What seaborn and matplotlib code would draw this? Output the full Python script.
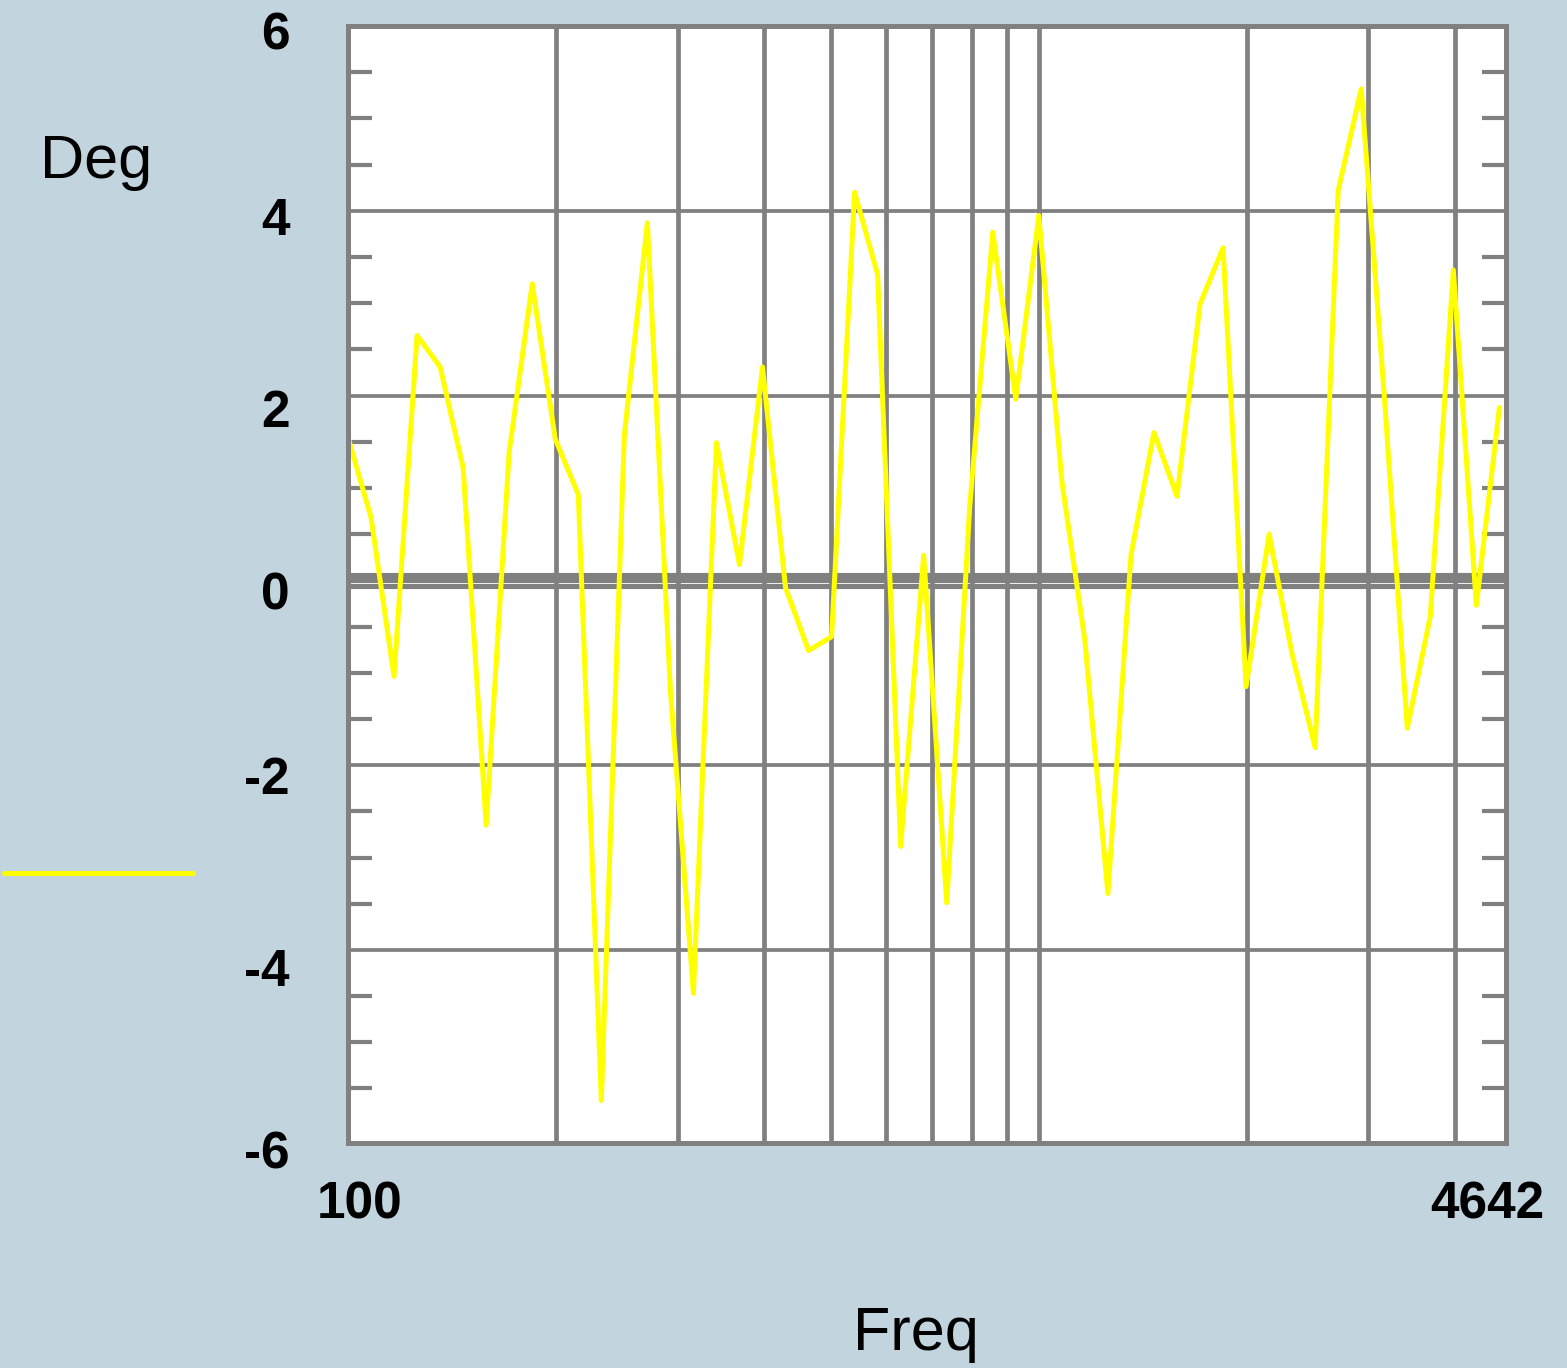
import numpy as np
import pandas as pd
import matplotlib
matplotlib.use("Agg")
import matplotlib.pyplot as plt
import matplotlib.transforms as mtransforms
from matplotlib.lines import Line2D
from matplotlib.ticker import MultipleLocator, NullFormatter, FixedLocator
import seaborn as sns

# ---------------- data ----------------
freq = [100.0, 107.98, 116.59, 125.89, 135.94, 146.78, 158.49, 171.13, 184.79, 199.53,
        215.44, 232.63, 251.19, 271.23, 292.87, 316.23, 341.45, 368.69, 398.11, 429.87,
        464.16, 501.19, 541.17, 584.34, 630.96, 681.29, 735.64, 794.33, 857.70, 926.12,
        1000.0, 1079.8, 1165.9, 1258.9, 1359.4, 1467.8, 1584.9, 1711.3, 1847.8, 1995.3,
        2154.4, 2326.3, 2511.9, 2712.3, 2928.6, 3162.3, 3414.5, 3686.9, 3981.1, 4298.7,
        4641.6]
deg = [1.55, 0.68, -1.04, 2.65, 2.31, 1.22, -2.65, 1.39, 3.21, 1.53,
       0.93, -5.63, 1.57, 3.87, -1.19, -4.47, 1.49, 0.17, 2.31, -0.08,
       -0.76, -0.61, 4.20, 3.31, -2.88, 0.27, -3.49, 0.80, 3.77, 1.96,
       3.95, 1.07, -0.65, -3.39, 0.27, 1.60, 0.91, 2.99, 3.60, -1.15,
       0.50, -0.80, -1.81, 4.22, 5.32, 2.00, -1.60, -0.39, 3.36, -0.27,
       1.87]
x_tick_values = [100.0, 4641.6]
x_tick_labels = ["100", "4642"]
x_grid_values = [200, 300, 400, 500, 600, 700, 800, 900, 1000, 2000, 3000, 4000]
y_tick_values = [-6, -4, -2, 0, 2, 4, 6]
y_tick_labels = ["-6", "-4", "-2", "0", "2", "4", "6"]
y_grid_values = [-4, -2, 2, 4]
zero_band = [-0.056, 0.0, 0.056]

df = pd.DataFrame({"Freq": freq, "Deg": deg})

# ---------------- style ----------------
BG = "#C2D4DE"
GRAY = "#808080"
sns.set_style("white")
plt.rcParams["font.family"] = ["Liberation Sans", "DejaVu Sans"]
plt.rcParams["text.color"] = "black"
plt.rcParams["axes.labelcolor"] = "black"
plt.rcParams["xtick.labelcolor"] = "black"
plt.rcParams["ytick.labelcolor"] = "black"

DPI = 100
fig = plt.figure(figsize=(15.67, 13.68), dpi=DPI, facecolor=BG)
L, R, B, T = 348 / 1567, 1506 / 1567, 1 - 1143 / 1368, 1 - 26 / 1368
ax = fig.add_axes([L, B, R - L, T - B])
ax.set_facecolor("white")

ax.set_xscale("log")
ax.set_xlim(100, 4745)
ax.set_ylim(-6.09, 5.985)

# grid lines
ax.xaxis.set_minor_locator(FixedLocator(x_grid_values))
ax.xaxis.set_minor_formatter(NullFormatter())
ax.xaxis.grid(True, which="minor", color=GRAY, lw=3.4, zorder=1)
ax.xaxis.grid(False, which="major")
for yv in y_grid_values:
    ax.axhline(yv, color=GRAY, lw=2.7, zorder=1)
for yv in zero_band:
    ax.axhline(yv, color=GRAY, lw=3.7, zorder=1.1)
ax.set_axisbelow(True)

# data line
sns.lineplot(data=df, x="Freq", y="Deg", ax=ax, color="#FFFF00", lw=3.6,
             sort=False, estimator=None, zorder=3)

# ticks
ax.set_xticks(x_tick_values)
ax.set_xticklabels(x_tick_labels, fontsize=37, fontweight="bold", color="black")
ax.tick_params(axis="x", which="both", length=0, pad=27)

ax.set_yticks(y_tick_values)
ax.set_yticklabels(y_tick_labels, fontsize=37, fontweight="bold", color="black")
ax.yaxis.set_minor_locator(MultipleLocator(0.5))
ax.tick_params(axis="y", which="major", length=0, pad=42)
ax.tick_params(axis="y", which="minor", direction="in", left=True, right=True,
               length=17, width=3.0, color=GRAY)

# label offsets
dpi_t = fig.dpi_scale_trans
yoffs = [15, 17, 10, 10, 12, 5, 4]
for lab, dy in zip(ax.get_yticklabels(), yoffs):
    lab.set_transform(lab.get_transform() + mtransforms.ScaledTranslation(0, -dy / DPI, dpi_t))
xoffs = [11.5, -12]
for lab, dx in zip(ax.get_xticklabels(), xoffs):
    lab.set_transform(lab.get_transform() + mtransforms.ScaledTranslation(dx / DPI, 0, dpi_t))

# spines
for sp in ax.spines.values():
    sp.set_color(GRAY)
    sp.set_linewidth(3.6)
    sp.set_zorder(4)

# axis labels
ax.set_xlabel("Freq", fontsize=44, va="baseline", ha="center", color="black")
ax.xaxis.set_label_coords((916 - 348) / 1158, (1143 - 1350) / 1117)
ax.set_ylabel("Deg", fontsize=44, rotation=0, va="baseline", ha="left", color="black")
ax.yaxis.set_label_coords((40 - 348) / 1158, (1143 - 178) / 1117)

if ax.get_legend() is not None:
    ax.get_legend().remove()

# legend swatch
fig.add_artist(Line2D([4 / 1567, 193 / 1567], [1 - 873 / 1368, 1 - 873 / 1368],
                      transform=fig.transFigure, color="#FFFF00", lw=3.6,
                      solid_capstyle="round"))

fig.savefig("out.png", dpi=DPI, facecolor=BG)
